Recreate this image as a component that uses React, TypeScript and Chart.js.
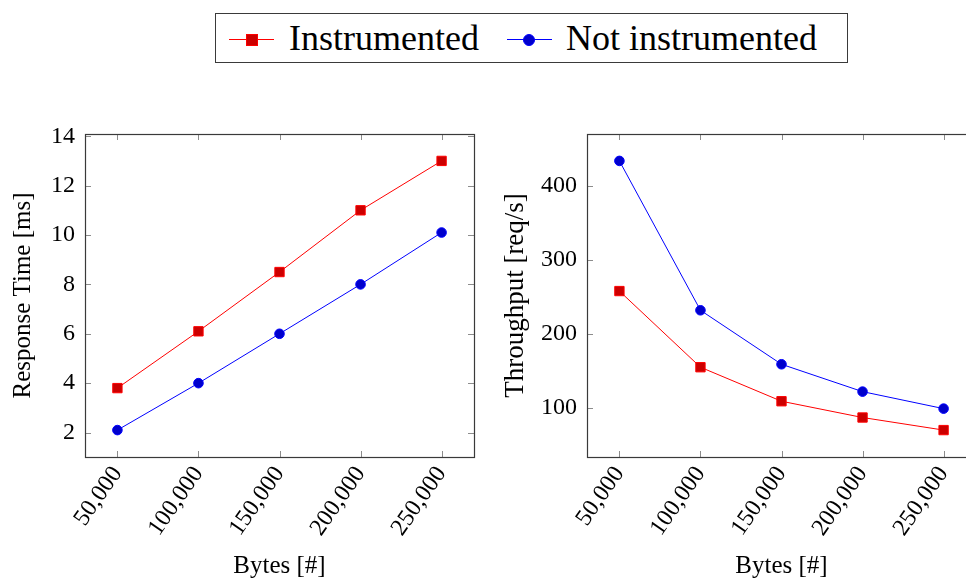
import React, { useEffect, useRef } from 'react';
import { Chart, registerables } from 'chart.js';

Chart.register(...registerables);

// ---- data ----
const bytes = [50000, 100000, 150000, 200000, 250000];
const seriesLabels = ['Instrumented', 'Not instrumented'];
const respInstrumented = [3.8, 6.1, 8.5, 11.0, 13.0];
const respNotInstrumented = [2.1, 4.0, 6.0, 8.0, 10.1];
const tputInstrumented = [258, 155, 109, 87, 70];
const tputNotInstrumented = [434, 232, 159, 122, 99];
const xTicks = [50000, 100000, 150000, 200000, 250000];
const respTicks = [2, 4, 6, 8, 10, 12, 14];
const tputTicks = [100, 200, 300, 400];
const xRange = [30000, 270000];
const respRange = [1.01, 14.09];
const tputRange = [33.6, 470.4];

const FONT = "'Liberation Serif', 'Times New Roman', serif";
const RED_LINE = '#ff0000';
const RED_FILL = '#cc0000';
const BLUE_LINE = '#0000ff';
const BLUE_FILL = '#0000cc';

const framePlugin = {
  id: 'pgfFrame',
  beforeDatasetsDraw(chart: any) {
    const { ctx, chartArea: a, scales } = chart;
    const xs = scales.x;
    const ys = scales.y;
    const L = 6;
    ctx.save();
    ctx.strokeStyle = '#8c8c8c';
    ctx.lineWidth = 1;
    ctx.beginPath();
    xs.ticks.forEach((t: any) => {
      const px = Math.round(xs.getPixelForValue(t.value)) + 0.5;
      ctx.moveTo(px, a.bottom);
      ctx.lineTo(px, a.bottom - L);
      ctx.moveTo(px, a.top);
      ctx.lineTo(px, a.top + L);
    });
    ys.ticks.forEach((t: any) => {
      const py = Math.round(ys.getPixelForValue(t.value)) + 0.5;
      ctx.moveTo(a.left, py);
      ctx.lineTo(a.left + L, py);
      ctx.moveTo(a.right, py);
      ctx.lineTo(a.right - L, py);
    });
    ctx.stroke();
    ctx.strokeStyle = '#3a3a3a';
    ctx.lineWidth = 1.2;
    ctx.strokeRect(
      Math.round(a.left) + 0.5,
      Math.round(a.top) + 0.5,
      Math.round(a.right - a.left),
      Math.round(a.bottom - a.top)
    );
    ctx.restore();
  },
};

type PanelProps = {
  yTitle: string;
  inst: number[];
  notInst: number[];
  yTicks: number[];
  yRange: number[];
  yTitlePad: number;
  yTitleSize: number;
  left: number;
};

function Panel({ yTitle, inst, notInst, yTicks, yRange, yTitlePad, yTitleSize, left }: PanelProps) {
  const ref = useRef<HTMLCanvasElement | null>(null);
  useEffect(() => {
    if (!ref.current) return;
    const chart = new Chart(ref.current, {
      type: 'line',
      data: {
        datasets: [
          {
            label: seriesLabels[0],
            data: bytes.map((b, i) => ({ x: b, y: inst[i] })),
            borderColor: RED_LINE,
            backgroundColor: RED_FILL,
            borderWidth: 1,
            pointStyle: 'rect',
            pointRadius: 6.6,
            pointBorderColor: RED_LINE,
            pointBackgroundColor: RED_FILL,
            pointBorderWidth: 1,
            tension: 0,
          },
          {
            label: seriesLabels[1],
            data: bytes.map((b, i) => ({ x: b, y: notInst[i] })),
            borderColor: BLUE_LINE,
            backgroundColor: BLUE_FILL,
            borderWidth: 1,
            pointStyle: 'circle',
            pointRadius: 4.8,
            pointBorderColor: BLUE_LINE,
            pointBackgroundColor: BLUE_FILL,
            pointBorderWidth: 1,
            tension: 0,
          },
        ],
      },
      options: {
        responsive: false,
        maintainAspectRatio: false,
        animation: false,
        layout: { padding: { left: 0, top: 14, right: 16, bottom: 0 } },
        plugins: { legend: { display: false }, tooltip: { enabled: false } },
        scales: {
          x: {
            type: 'linear',
            min: xRange[0],
            max: xRange[1],
            grid: { display: false, drawTicks: false },
            border: { display: false },
            afterBuildTicks: (s: any) => {
              s.ticks = xTicks.map((v) => ({ value: v }));
            },
            afterFit: (s: any) => {
              s.height = 122;
              s.paddingLeft = 0;
              s.paddingRight = 0;
            },
            ticks: {
              autoSkip: false,
              minRotation: 55,
              maxRotation: 55,
              padding: 4,
              color: '#000',
              font: { family: FONT, size: 24 },
              callback: (v: any) => Number(v).toLocaleString('en-US'),
            },
            title: {
              display: true,
              text: 'Bytes [#]',
              color: '#000',
              font: { family: FONT, size: 25, lineHeight: 1 },
              padding: { top: 0, bottom: 0 },
            },
          },
          y: {
            type: 'linear',
            min: yRange[0],
            max: yRange[1],
            grid: { display: false, drawTicks: false },
            border: { display: false },
            afterBuildTicks: (s: any) => {
              s.ticks = yTicks.map((v) => ({ value: v }));
            },
            afterFit: (s: any) => {
              s.width = 85;
              s.paddingTop = 0;
              s.paddingBottom = 0;
            },
            ticks: {
              padding: 10,
              color: '#000',
              font: { family: FONT, size: 24 },
              callback: (v: any) => String(v),
            },
            title: {
              display: true,
              text: yTitle,
              color: '#000',
              font: { family: FONT, size: yTitleSize, lineHeight: 1 },
              padding: { top: yTitlePad, bottom: 0 },
            },
          },
        },
      } as any,
      plugins: [framePlugin],
    });
    return () => chart.destroy();
  }, []);
  return (
    <div style={{ position: 'absolute', left, top: 120, width: 490, height: 459 }}>
      <canvas ref={ref} width={490} height={459} style={{ width: 490, height: 459, display: 'block' }} />
    </div>
  );
}

function Legend() {
  const textStyle: React.CSSProperties = {
    position: 'absolute',
    top: 20,
    fontFamily: FONT,
    fontSize: 36,
    lineHeight: '37px',
    color: '#000',
    whiteSpace: 'nowrap',
  };
  return (
    <>
      <div
        style={{
          position: 'absolute',
          left: 215,
          top: 13,
          width: 633,
          height: 50,
          border: '1px solid #3a3a3a',
          boxSizing: 'border-box',
        }}
      />
      <div style={{ position: 'absolute', left: 229, top: 39, width: 45, height: 1, background: RED_LINE }} />
      <div
        style={{
          position: 'absolute',
          left: 246,
          top: 34,
          width: 12,
          height: 12,
          background: RED_FILL,
          border: `1px solid ${RED_LINE}`,
          boxSizing: 'border-box',
        }}
      />
      <span style={{ ...textStyle, left: 289 }}>{seriesLabels[0]}</span>
      <div style={{ position: 'absolute', left: 507, top: 39, width: 45, height: 1, background: BLUE_LINE }} />
      <div
        style={{
          position: 'absolute',
          left: 523,
          top: 34,
          width: 12,
          height: 12,
          borderRadius: '50%',
          background: BLUE_FILL,
          border: `1px solid ${BLUE_LINE}`,
          boxSizing: 'border-box',
        }}
      />
      <span style={{ ...textStyle, left: 566 }}>{seriesLabels[1]}</span>
    </>
  );
}

export default function App() {
  return (
    <div
      style={{
        position: 'fixed',
        left: 0,
        top: 0,
        width: 966,
        height: 579,
        overflow: 'hidden',
        background: '#fff',
      }}
    >
      <Legend />
      <Panel
        yTitle="Response Time [ms]"
        inst={respInstrumented}
        notInst={respNotInstrumented}
        yTicks={respTicks}
        yRange={respRange}
        yTitlePad={11}
        yTitleSize={25}
        left={0}
      />
      <Panel
        yTitle="Throughput [req/s]"
        inst={tputInstrumented}
        notInst={tputNotInstrumented}
        yTicks={tputTicks}
        yRange={tputRange}
        yTitlePad={0}
        yTitleSize={27}
        left={502}
      />
    </div>
  );
}
